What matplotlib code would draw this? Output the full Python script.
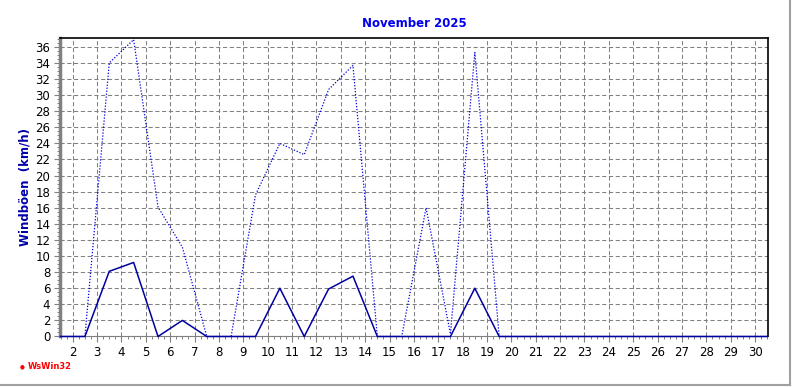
import matplotlib.pyplot as plt
from matplotlib.ticker import MultipleLocator
from matplotlib.lines import Line2D

# Tageswerte (Position = Tagesmitte)
tage = [1.5, 2.5, 3.5, 4.5, 5.5, 6.5, 7.5, 8.5, 9.5, 10.5, 11.5, 12.5, 13.5,
        14.5, 15.5, 16.5, 17.5, 18.5, 19.5, 20.5, 21.5, 22.5, 23.5, 24.5,
        25.5, 26.5, 27.5, 28.5, 29.5, 30.5]
boeen = [0, 0, 34.0, 36.9, 16.1, 11.1, 0, 0, 17.6, 24.0, 22.6, 30.7, 33.7,
         0, 0, 16.0, 0.3, 35.3, 0, 0, 0, 0, 0, 0, 0, 0, 0, 0, 0, 0]
mittel = [0, 0, 8.1, 9.2, 0, 2.0, 0, 0, 0, 6.0, 0, 5.9, 7.5,
          0, 0, 0, 0, 6.0, 0, 0, 0, 0, 0, 0, 0, 0, 0, 0, 0, 0]
x_ticks = list(range(2, 31))
y_ticks = list(range(0, 37, 2))

fig = plt.figure(figsize=(7.92, 3.87), dpi=100)
ax = fig.add_axes([0.0758, 0.1305, 0.8939, 0.7713])

ax.plot(tage, boeen, color='#0000dd', linestyle=(0, (1, 1.4)), linewidth=0.9,
        zorder=3)
ax.plot(tage, mittel, color='#0000a0', linestyle='-', linewidth=1.1,
        zorder=4, clip_on=False)

ax.set_xlim(1.48, 30.53)
ax.set_ylim(0, 37.1)
ax.set_xticks(x_ticks)
ax.set_yticks(y_ticks)
ax.xaxis.set_minor_locator(MultipleLocator(0.25))
ax.yaxis.set_minor_locator(MultipleLocator(0.5))
ax.grid(True, which='major', color='#808080', linestyle=(0, (4, 2.5)), linewidth=0.75)
ax.set_axisbelow(True)

for s in ['top', 'right']:
    ax.spines[s].set_color('black')
    ax.spines[s].set_linewidth(1.2)
ax.spines['left'].set_color('#808080')
ax.spines['left'].set_linewidth(2.5)
ax.spines['bottom'].set_color('#808080')
ax.spines['bottom'].set_linewidth(0.8)
ax.spines['bottom'].set_zorder(2)

ax.tick_params(which='major', length=4, width=0.8, color='#808080', labelsize=8.5, pad=3)
ax.tick_params(which='minor', length=2, width=0.7, color='#808080')

ax.set_title('November 2025', color='#0000ee', fontsize=8.5, fontweight='bold', pad=8)
ax.set_ylabel('Windböen  (km/h)', color='#0000aa', fontsize=8.5, fontweight='bold', labelpad=3)

fig.text(0.035, 0.052, 'WsWin32', color='red', fontsize=6, fontweight='bold', va='center')
fig.text(0.028, 0.052, '\u25cf', color='red', fontsize=4, va='center', ha='center')

# grauer Rahmen rechts/unten
fig.add_artist(Line2D([0, 0.998], [0.004, 0.004], color='#a0a0a0', linewidth=1.5))
fig.add_artist(Line2D([0.998, 0.998], [0.004, 1], color='#a0a0a0', linewidth=1.5))

fig.savefig('out.png', dpi=100)
